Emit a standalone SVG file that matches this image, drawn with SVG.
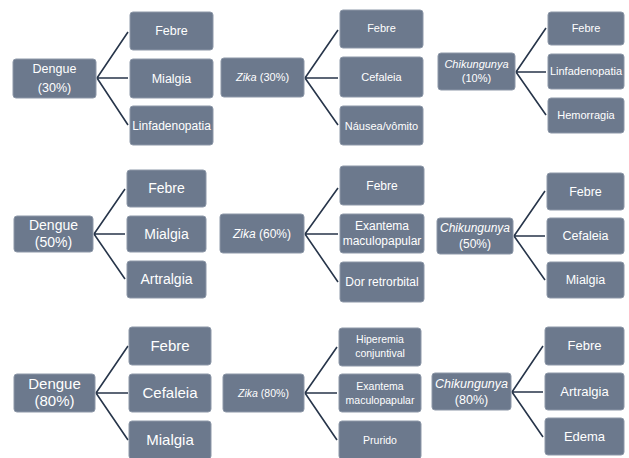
<svg xmlns="http://www.w3.org/2000/svg" width="629" height="458" viewBox="0 0 629 458">
<style>
.b{fill:#6c798d;stroke:#8d98a8;stroke-width:1}
.t{fill:#ffffff;font-family:"Liberation Sans",Arial,sans-serif;text-anchor:middle}
.c{fill:none;stroke:#27354a;stroke-width:1.6}
</style>
<rect width="629" height="458" fill="#ffffff"/>
<g id="connectors">
<path class="c" d="M97,78 L128,32 M97,78 L128,78 M97,78 L128,125"/>
<path class="c" d="M305,78 L338,30 M305,78 L338,78 M305,78 L338,125"/>
<path class="c" d="M516,72 L546,28 M516,72 L546,72 M516,72 L546,115"/>
<path class="c" d="M94,234 L125,189 M94,234 L125,234 M94,234 L125,279"/>
<path class="c" d="M305,234 L338,188 M305,234 L338,234 M305,234 L338,282"/>
<path class="c" d="M514,236 L545,191 M514,236 L545,236 M514,236 L545,280"/>
<path class="c" d="M96,393 L128,346 M96,393 L128,393 M96,393 L128,440"/>
<path class="c" d="M305,393 L337,347 M305,393 L337,393 M305,393 L337,440"/>
<path class="c" d="M512,392 L543,346 M512,392 L543,392 M512,392 L543,437"/>
</g>
<!-- Row 1 -->
<g id="dengue30"><rect class="b" x="13" y="59" width="83" height="39" rx="3"/><text class="t" x="54.5" y="73" font-size="12.5">Dengue</text><text class="t" x="54.5" y="92" font-size="12.5">(30%)</text></g>
<g id="d30-febre"><rect class="b" x="130" y="12" width="83" height="38" rx="3"/><text class="t" x="171.5" y="35" font-size="12.5">Febre</text></g>
<g id="d30-mialgia"><rect class="b" x="130" y="59" width="83" height="39" rx="3"/><text class="t" x="171.5" y="83" font-size="12.5">Mialgia</text></g>
<g id="d30-linf"><rect class="b" x="130" y="106" width="83" height="39" rx="3"/><text class="t" x="171.5" y="130" font-size="12">Linfadenopatia</text></g>

<g id="zika30"><rect class="b" x="221" y="58" width="83" height="39" rx="3"/><text class="t" x="262.5" y="81" font-size="11"><tspan font-style="italic">Zika</tspan> (30%)</text></g>
<g id="z30-febre"><rect class="b" x="340" y="10" width="83" height="38" rx="3"/><text class="t" x="381.5" y="32" font-size="11">Febre</text></g>
<g id="z30-cef"><rect class="b" x="340" y="57" width="83" height="40" rx="3"/><text class="t" x="381.5" y="81" font-size="11">Cefaleia</text></g>
<g id="z30-naus"><rect class="b" x="340" y="106" width="83" height="39" rx="3"/><text class="t" x="381.5" y="130" font-size="11">Náusea/vômito</text></g>

<g id="chik10"><rect class="b" x="438" y="53" width="77" height="37" rx="3"/><text class="t" x="476.5" y="68" font-size="11" font-style="italic">Chikungunya</text><text class="t" x="476.5" y="82" font-size="11">(10%)</text></g>
<g id="c10-febre"><rect class="b" x="548" y="12" width="76" height="33" rx="3"/><text class="t" x="586" y="32" font-size="11">Febre</text></g>
<g id="c10-linf"><rect class="b" x="548" y="54" width="76" height="35" rx="3"/><text class="t" x="586" y="75" font-size="11">Linfadenopatia</text></g>
<g id="c10-hem"><rect class="b" x="548" y="98" width="76" height="35" rx="3"/><text class="t" x="586" y="119" font-size="11">Hemorragia</text></g>

<!-- Row 2 -->
<g id="dengue50"><rect class="b" x="14" y="216" width="79" height="36" rx="3"/><text class="t" x="53.5" y="230" font-size="14">Dengue</text><text class="t" x="53.5" y="247" font-size="14">(50%)</text></g>
<g id="d50-febre"><rect class="b" x="127" y="170" width="79" height="37" rx="3"/><text class="t" x="166.5" y="193" font-size="14">Febre</text></g>
<g id="d50-mialgia"><rect class="b" x="127" y="216" width="79" height="36" rx="3"/><text class="t" x="166.5" y="239" font-size="14">Mialgia</text></g>
<g id="d50-artr"><rect class="b" x="127" y="261" width="79" height="37" rx="3"/><text class="t" x="166.5" y="284" font-size="14">Artralgia</text></g>

<g id="zika60"><rect class="b" x="220" y="214" width="84" height="39" rx="3"/><text class="t" x="262" y="238" font-size="12"><tspan font-style="italic">Zika</tspan> (60%)</text></g>
<g id="z60-febre"><rect class="b" x="340" y="166" width="84" height="39" rx="3"/><text class="t" x="382" y="190" font-size="12">Febre</text></g>
<g id="z60-exan"><rect class="b" x="340" y="214" width="84" height="39" rx="3"/><text class="t" x="382" y="230" font-size="12">Exantema</text><text class="t" x="382" y="245" font-size="12">maculopapular</text></g>
<g id="z60-dor"><rect class="b" x="340" y="262" width="84" height="40" rx="3"/><text class="t" x="382" y="286" font-size="12">Dor retrorbital</text></g>

<g id="chik50"><rect class="b" x="437" y="218" width="76" height="36" rx="3"/><text class="t" x="475" y="232" font-size="12" font-style="italic">Chikungunya</text><text class="t" x="475" y="248" font-size="12">(50%)</text></g>
<g id="c50-febre"><rect class="b" x="547" y="173" width="77" height="37" rx="3"/><text class="t" x="585.5" y="196" font-size="12.5">Febre</text></g>
<g id="c50-cef"><rect class="b" x="547" y="218" width="77" height="36" rx="3"/><text class="t" x="585.5" y="240" font-size="12.5">Cefaleia</text></g>
<g id="c50-mial"><rect class="b" x="547" y="262" width="77" height="36" rx="3"/><text class="t" x="585.5" y="284" font-size="12.5">Mialgia</text></g>

<!-- Row 3 -->
<g id="dengue80"><rect class="b" x="14" y="374" width="81" height="38" rx="3"/><text class="t" x="54.5" y="389" font-size="15">Dengue</text><text class="t" x="54.5" y="406" font-size="15">(80%)</text></g>
<g id="d80-febre"><rect class="b" x="129" y="327" width="82" height="38" rx="3"/><text class="t" x="170" y="351" font-size="15">Febre</text></g>
<g id="d80-cef"><rect class="b" x="129" y="374" width="82" height="38" rx="3"/><text class="t" x="170" y="398" font-size="15">Cefaleia</text></g>
<g id="d80-mial"><rect class="b" x="129" y="421" width="82" height="38" rx="3"/><text class="t" x="170" y="445" font-size="15">Mialgia</text></g>

<g id="zika80"><rect class="b" x="223" y="374" width="81" height="38" rx="3"/><text class="t" x="263.5" y="397" font-size="10.5"><tspan font-style="italic">Zika</tspan> (80%)</text></g>
<g id="z80-hip"><rect class="b" x="339" y="328" width="82" height="38" rx="3"/><text class="t" x="380" y="343" font-size="10.5">Hiperemia</text><text class="t" x="380" y="357" font-size="10.5">conjuntival</text></g>
<g id="z80-exan"><rect class="b" x="339" y="374" width="82" height="38" rx="3"/><text class="t" x="380" y="390" font-size="10.5">Exantema</text><text class="t" x="380" y="404" font-size="10.5">maculopapular</text></g>
<g id="z80-prur"><rect class="b" x="339" y="421" width="82" height="38" rx="3"/><text class="t" x="380" y="444" font-size="10.5">Prurido</text></g>

<g id="chik80"><rect class="b" x="432" y="373" width="79" height="37" rx="3"/><text class="t" x="471.5" y="388" font-size="12.5" font-style="italic">Chikungunya</text><text class="t" x="471.5" y="404" font-size="12.5">(80%)</text></g>
<g id="c80-febre"><rect class="b" x="545" y="327" width="79" height="38" rx="3"/><text class="t" x="584.5" y="350" font-size="13">Febre</text></g>
<g id="c80-artr"><rect class="b" x="545" y="373" width="79" height="37" rx="3"/><text class="t" x="584.5" y="396" font-size="13">Artralgia</text></g>
<g id="c80-edema"><rect class="b" x="545" y="418" width="79" height="37" rx="3"/><text class="t" x="584.5" y="441" font-size="13">Edema</text></g>
</svg>
